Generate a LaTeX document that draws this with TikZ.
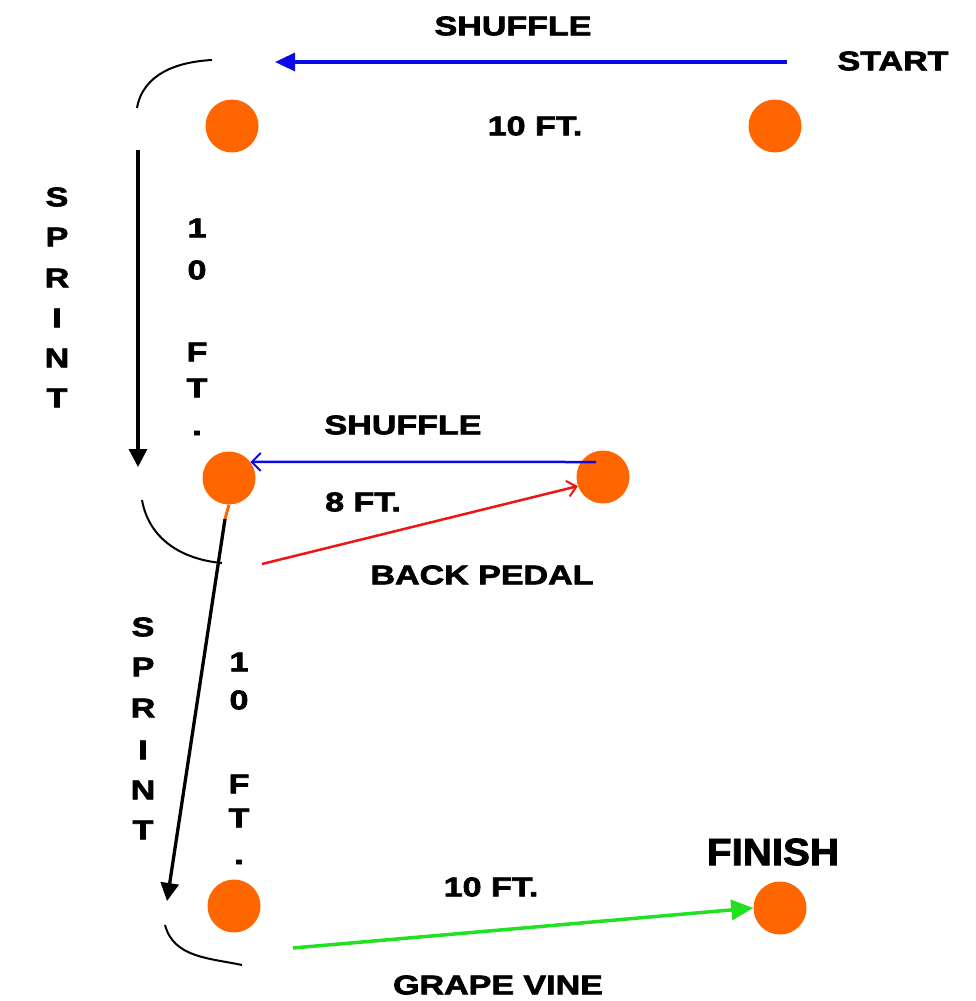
\documentclass[tikz,border=0pt]{standalone}
\usepackage{fontspec}
\setmainfont{Liberation Sans}[BoldFeatures={FakeBold=2.2}]
\usepackage{graphicx}
\usetikzlibrary{arrows.meta}
\definecolor{dotorange}{HTML}{FF6600}
\definecolor{arrblue}{HTML}{0A0AE6}
\definecolor{arrred}{HTML}{F01515}
\definecolor{arrgreen}{HTML}{22E022}
\newcommand\W[1]{\scalebox{1.26}[1]{#1}}
\tikzset{
  cone/.style={circle,fill=dotorange,draw=none,inner sep=0pt,minimum size=53pt},
  lbl/.style={inner sep=0pt,font=\fontsize{27}{27}\selectfont\bfseries},
  big/.style={inner sep=0pt,font=\fontsize{38}{38}\selectfont\bfseries},
  pathline/.style={line width=3.3pt},
  curl/.style={line width=2pt,black},
}
\begin{document}
\begin{tikzpicture}[x=1pt,y=-1pt]
\useasboundingbox[fill=white] (0,0) rectangle (975,1001);
% cones
\node[cone] (tl) at (232,126) {};
\node[cone] (tr) at (775,126) {};
\node[cone] (ml) at (229,478) {};
\node[cone] (mr) at (603,477) {};
\node[cone] (bl) at (234,906) {};
\node[cone] (br) at (780,908) {};
% labels
\node[lbl] (shuf1) at (513,26) {\W{SHUFFLE}};
\node[lbl] (start) at (893,61) {\W{START}};
\node[lbl] (ten1) at (535,126) {\W{10 FT.}};
\node[lbl] (shuf2) at (403,425) {\W{SHUFFLE}};
\node[lbl] (eight) at (363,502) {\W{8 FT.}};
\node[lbl] (back) at (482,575) {\W{BACK PEDAL}};
\node[lbl] (ten3) at (491,887) {\W{10 FT.}};
\node[big] (finish) at (773,852) {\scalebox{1.06}[1]{FINISH}};
\node[lbl] (grape) at (498,985) {\W{GRAPE VINE}};
% vertical texts
\foreach \t/\y [count=\i] in {S/197,P/237,R/278,I/318,N/358,T/398}
  \node[lbl] (spA\i) at (57,\y) {\W{\t}};
\foreach \t/\y [count=\i] in {1/228,0/270,F/352,T/388,./433}
  \node[lbl] (ftA\i) at (197,\y) {\W{\t}};
\foreach \t/\y [count=\i] in {S/627,P/667,R/708,I/750,N/790,T/830}
  \node[lbl] (spB\i) at (143,\y) {\W{\t}};
\foreach \t/\y [count=\i] in {1/662,0/700,F/784,T/818,./862}
  \node[lbl] (ftB\i) at (239,\y) {\W{\t}};
% top shuffle
\coordinate (s1a) at (787,62);
\coordinate (s1b) at (275,62);
\draw[pathline,arrblue,-{Triangle[length=20pt,width=18pt]}] (s1a) -- (s1b);
% top curl
\coordinate (c1a) at (212,60);
\coordinate (c1b) at (137,108);
\draw[curl] (c1a) to[out=183,in=80] (c1b);
% first sprint
\coordinate (sp1a) at (138,150);
\coordinate (sp1b) at (138,467);
\draw[pathline,black,-{Triangle[length=18pt,width=18pt]}] (sp1a) -- (sp1b);
% middle shuffle
\coordinate (s2a) at (596,462);
\draw[line width=2.5pt,arrblue,-{Straight Barb[length=9pt,width=18pt,line width=2pt]}] (s2a) -- (ml.37);
% middle curl
\coordinate (c2a) at (142,500);
\coordinate (c2b) at (222,563);
\draw[curl] (c2a) to[out=-80,in=175] (c2b);
% back pedal
\coordinate (bpa) at (262,564);
\draw[line width=2.5pt,arrred,-{Straight Barb[length=9pt,width=16pt,line width=2pt]}] (bpa) -- (mr.200);
% second sprint
\coordinate (st2) at (225,519);
\coordinate (sp2b) at (167,901);
\draw[line width=3pt,dotorange] (ml.south) -- (st2);
\draw[pathline,black,-{Triangle[length=18pt,width=18pt]}] (st2) -- (sp2b);
% bottom curl
\coordinate (c3a) at (165,925);
\coordinate (c3b) at (242,965);
\draw[curl] (c3a) to[out=-75,in=168] (c3b);
% grape vine
\coordinate (gva) at (293,948);
\draw[line width=3.5pt,arrgreen,-{Triangle[length=22pt,width=20pt]}] (gva) -- (br.west);
\end{tikzpicture}
\end{document}
